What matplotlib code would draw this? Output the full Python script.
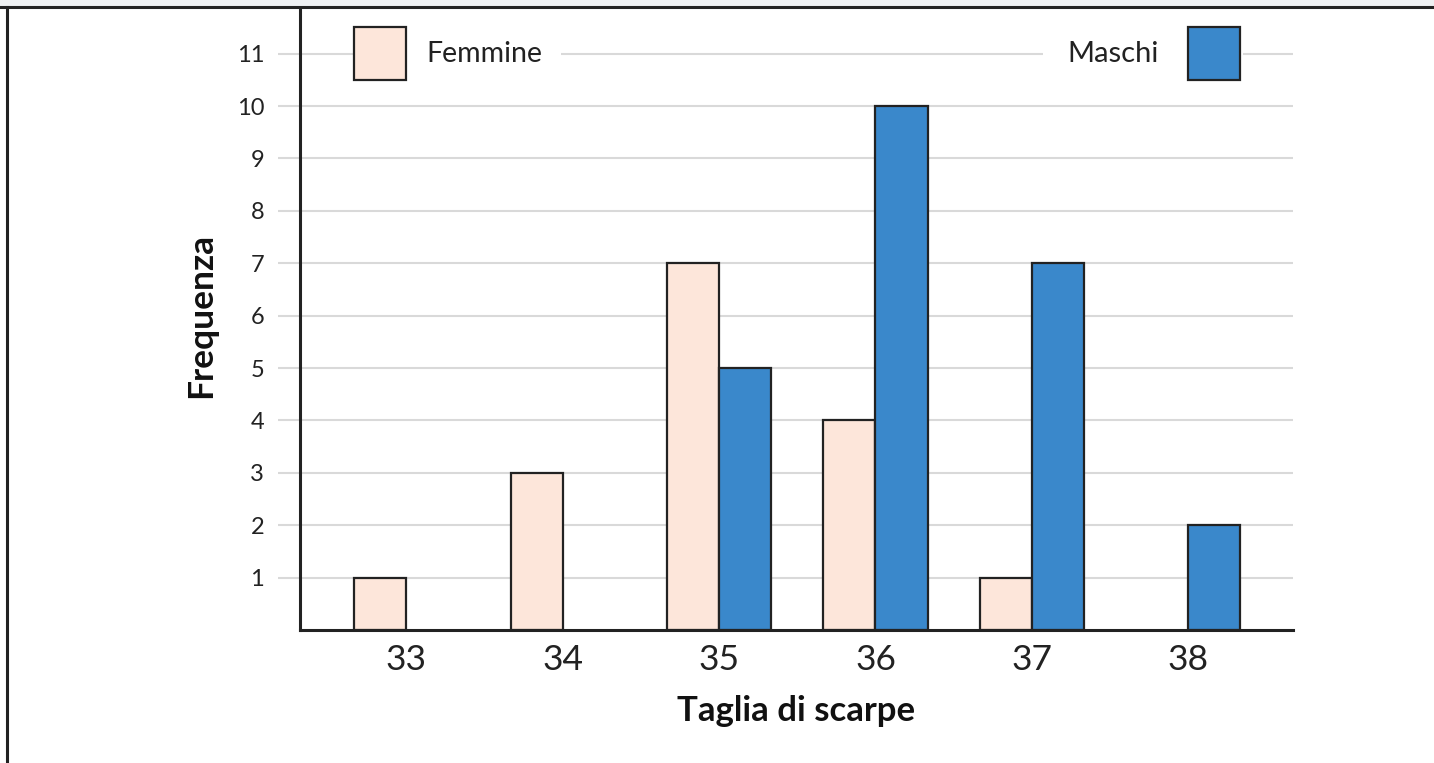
import matplotlib
matplotlib.use("Agg")
import matplotlib.pyplot as plt
from matplotlib.patches import Rectangle
from matplotlib.lines import Line2D
import numpy as np

plt.rcParams['font.family'] = ['Lato', 'DejaVu Sans']

sizes = [33, 34, 35, 36, 37, 38]
femmine = [1, 3, 7, 4, 1, 0]
maschi = [0, 0, 5, 10, 7, 2]
yticks = list(range(1, 12))
xlabel = "Taglia di scarpe"
ylabel = "Frequenza"
series_names = ["Femmine", "Maschi"]

col_f = "#fde6da"
col_m = "#3a88cb"
edge = "#222222"
grid_col = "#d9d9d9"

W, H = 1434, 763
fig = plt.figure(figsize=(W / 100, H / 100), dpi=100)

# axes placement in pixels
ax_l, ax_r, ax_b, ax_t = 300, 1293, 630, 7
ax = fig.add_axes([ax_l / W, 1 - ax_b / H, (ax_r - ax_l) / W, (ax_b - ax_t) / H])

x = np.arange(len(sizes))
bw = 0.333
for i in x:
    if femmine[i] > 0:
        ax.bar(i - bw / 2, femmine[i], width=bw, color=col_f, edgecolor=edge, linewidth=1.6, zorder=3)
    if maschi[i] > 0:
        ax.bar(i + bw / 2, maschi[i], width=bw, color=col_m, edgecolor=edge, linewidth=1.6, zorder=3)

ax.set_xlim(-0.68, len(sizes) - 1 + 0.67)
ax.set_ylim(0, 11.89)

for v in yticks:
    ax.axhline(v, color=grid_col, linewidth=1.5, zorder=0.5)

ax.set_yticks(yticks)
ax.set_yticklabels([str(v) for v in yticks], fontsize=17, color="#222222")
ax.tick_params(axis='y', length=15.8, width=1.5, color=grid_col, pad=10)
ax.set_xticks(x)
ax.set_xticklabels([str(s) for s in sizes], fontsize=25.5, color="#222222")
ax.tick_params(axis='x', length=0, pad=10)

for s in ['top', 'right']:
    ax.spines[s].set_visible(False)
for s in ['left', 'bottom']:
    ax.spines[s].set_linewidth(2.2)
    ax.spines[s].set_color("#222222")
    ax.spines[s].set_zorder(5)

ax.set_xlabel(xlabel, fontsize=25, fontweight='bold', color="#111111", labelpad=14)
fig.text(201 / W, 1 - 315 / H, ylabel, fontsize=25.5, fontweight='bold', color="#111111",
         rotation=90, ha='center', va='center')

# legend drawn inside the plot on the top gridline
ly = yticks[-1]
# Femmine: patch aligned with first female bar
fx = 0 - bw
ax.add_patch(Rectangle((fx - 0.01, ly - 0.42), 1.33, 0.84, color='white', zorder=1, lw=0))
ax.add_patch(Rectangle((fx, ly - 0.5), bw, 1.0, facecolor=col_f, edgecolor=edge, linewidth=1.6, zorder=3))
ax.text(fx + bw + 0.126, ly, series_names[0], fontsize=20.5, va='center', ha='left', color="#222222", zorder=4)
# Maschi: patch aligned with last male bar
mx = len(sizes) - 1
ax.add_patch(Rectangle((mx - 0.93, ly - 0.42), 0.95 + bw, 0.84, color='white', zorder=1, lw=0))
ax.add_patch(Rectangle((mx, ly - 0.5), bw, 1.0, facecolor=col_m, edgecolor=edge, linewidth=1.6, zorder=3))
ax.text(mx - 0.19, ly, series_names[1], fontsize=21, va='center', ha='right', color="#222222", zorder=4)

# outer frame: gray band at top, dark top and left lines
fig.patches.append(Rectangle((0, 1 - 5 / H), 1, 5 / H, transform=fig.transFigure, color="#eef0f2", zorder=0))
fig.add_artist(Line2D([0, 1], [1 - 6.5 / H, 1 - 6.5 / H], transform=fig.transFigure, color="#222222", linewidth=2.2))
fig.add_artist(Line2D([7 / W, 7 / W], [0, 1 - 6.5 / H], transform=fig.transFigure, color="#222222", linewidth=2.2))

fig.savefig("out.png", dpi=100)
